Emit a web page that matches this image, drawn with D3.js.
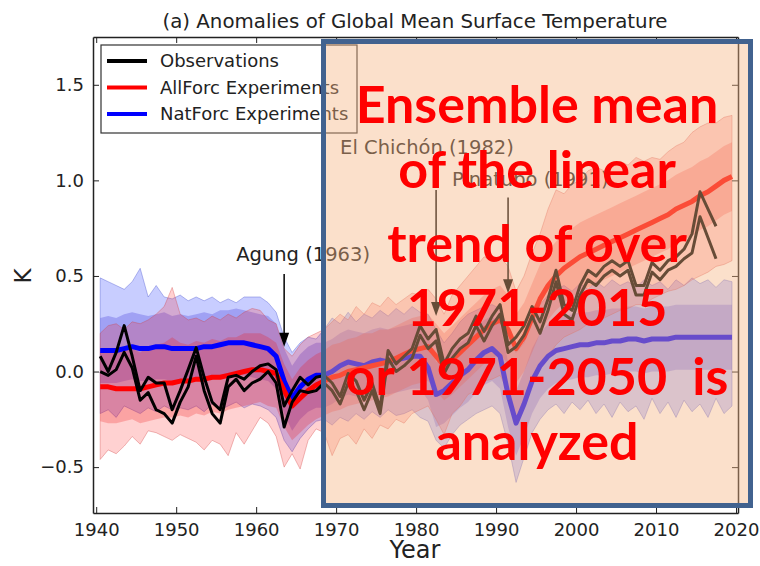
<!DOCTYPE html>
<html>
<head>
  <meta charset="utf-8"/>
  <script src="https://d3js.org/d3.v7.min.js"></script>
  <style>
    html, body { margin: 0; padding: 0; background: #fff; }
    svg { display: block; }
    .mpl { font-family: "DejaVu Sans", sans-serif; fill: #222; }
    .note { font-family: "Lato", "Open Sans", sans-serif; font-weight: 700; fill: #ff0000; }
  </style>
</head>
<body>
<div id="chart"></div>
<script>
// ---- data (annual means, 1940-2019; observations 1940-2017) ----
const firstYear = 1940;
const xTicks = [1940, 1950, 1960, 1970, 1980, 1990, 2000, 2010, 2020];
const yTicks = [-0.5, 0.0, 0.5, 1.0, 1.5];

// Observations (two data sets)
const obsA = [0.08, 0.0, 0.1, 0.24, 0.08, -0.1, -0.03, -0.06, -0.06, -0.2,
  -0.1, 0.01, 0.125, -0.03, -0.16, -0.2, -0.03, -0.02, -0.04, 0.0,
  0.03, 0.04, 0.01, -0.18, -0.1, -0.03, -0.07, -0.03, -0.02, -0.06,
  -0.13, -0.01, -0.05, -0.15, -0.06, -0.19, 0.11, 0.04, 0.08, 0.12,
  0.24, 0.17, 0.22, 0.04, 0.12, 0.17, 0.2, 0.29, 0.21, 0.29,
  0.35, 0.14, 0.18, 0.24, 0.34, 0.26, 0.38, 0.53, 0.35, 0.32,
  0.45, 0.53, 0.5, 0.55, 0.58, 0.55, 0.58, 0.45, 0.45, 0.57,
  0.53, 0.58, 0.6, 0.64, 0.72, 0.94, 0.85, 0.76];
const obsB = [0.0, -0.02, 0.01, 0.1, 0.02, -0.15, -0.11, -0.2, -0.22, -0.27,
  -0.16, -0.08, 0.08, -0.1, -0.22, -0.27, -0.08, -0.04, -0.1, -0.06,
  -0.04, 0.0, -0.06, -0.29, -0.16, -0.1, -0.11, -0.1, -0.06, -0.1,
  -0.17, -0.06, -0.1, -0.2, -0.1, -0.22, 0.07, 0.0, 0.03, 0.07,
  0.19, 0.12, 0.16, -0.01, 0.07, 0.12, 0.15, 0.24, 0.16, 0.24,
  0.3, 0.1, 0.13, 0.19, 0.29, 0.2, 0.32, 0.47, 0.3, 0.27,
  0.4, 0.48, 0.45, 0.5, 0.53, 0.5, 0.53, 0.4, 0.4, 0.52,
  0.48, 0.53, 0.55, 0.59, 0.62, 0.81, 0.7, 0.59];

// AllForc ensemble
const allMean = [-0.08, -0.08, -0.09, -0.09, -0.09, -0.09, -0.08, -0.07, -0.06, -0.06,
  -0.05, -0.05, -0.04, -0.04, -0.03, -0.03, -0.02, -0.01, 0.0, 0.01,
  0.01, 0.0, -0.01, -0.1, -0.18, -0.14, -0.1, -0.07, -0.05, -0.03,
  -0.02, 0.0, 0.01, 0.02, 0.03, 0.04, 0.05, 0.07, 0.09, 0.11,
  0.12, 0.13, 0.08, 0.03, 0.06, 0.1, 0.14, 0.18, 0.22, 0.25,
  0.27, 0.22, 0.12, 0.18, 0.28, 0.38, 0.45, 0.5, 0.54, 0.57,
  0.6, 0.62, 0.64, 0.66, 0.68, 0.7, 0.72, 0.74, 0.76, 0.78,
  0.8, 0.82, 0.85, 0.87, 0.89, 0.92, 0.94, 0.97, 1.0, 1.02];
const allMax = [0.2, 0.24, 0.25, 0.22, 0.26, 0.25, 0.27, 0.3, 0.34, 0.44,
  0.3, 0.27, 0.28, 0.26, 0.29, 0.27, 0.3, 0.28, 0.31, 0.33,
  0.32, 0.27, 0.25, 0.12, 0.08, 0.14, 0.18, 0.2, 0.22, 0.26,
  0.3, 0.27, 0.34, 0.3, 0.36, 0.34, 0.39, 0.35, 0.38, 0.41,
  0.4, 0.43, 0.38, 0.3, 0.4, 0.45, 0.5, 0.55, 0.6, 0.58,
  0.6, 0.55, 0.42, 0.5, 0.62, 0.72, 0.85, 0.95, 0.93, 0.98,
  1.0, 1.05, 1.07, 1.05, 1.08, 1.1, 1.08, 1.12, 1.1, 1.12,
  1.11, 1.15, 1.18, 1.2, 1.25, 1.28, 1.3, 1.3, 1.33, 1.34];
const allMin = [-0.46, -0.41, -0.43, -0.39, -0.34, -0.38, -0.31, -0.32, -0.34, -0.36,
  -0.33, -0.35, -0.37, -0.41, -0.36, -0.38, -0.44, -0.32, -0.38, -0.31,
  -0.24, -0.27, -0.34, -0.5, -0.43, -0.51, -0.36, -0.3, -0.32, -0.44,
  -0.35, -0.33, -0.38, -0.3, -0.35, -0.28, -0.3, -0.25, -0.27, -0.22,
  -0.2, -0.18, -0.25, -0.33, -0.22, -0.18, -0.12, -0.1, -0.05, -0.04,
  -0.02, -0.1, -0.25, -0.15, -0.05, 0.02, 0.08, 0.14, 0.18, 0.2,
  0.22, 0.25, 0.27, 0.28, 0.3, 0.32, 0.33, 0.35, 0.35, 0.38,
  0.4, 0.42, 0.43, 0.45, 0.48, 0.5, 0.52, 0.55, 0.56, 0.58];
const allHi = [0.1, 0.12, 0.1, 0.11, 0.12, 0.1, 0.13, 0.14, 0.15, 0.18,
  0.15, 0.14, 0.16, 0.15, 0.17, 0.16, 0.18, 0.18, 0.2, 0.2,
  0.2, 0.18, 0.15, 0.04, -0.04, 0.02, 0.06, 0.09, 0.11, 0.14,
  0.15, 0.17, 0.18, 0.2, 0.2, 0.22, 0.22, 0.24, 0.26, 0.28,
  0.29, 0.3, 0.25, 0.2, 0.24, 0.28, 0.32, 0.36, 0.4, 0.43,
  0.45, 0.4, 0.3, 0.36, 0.46, 0.56, 0.63, 0.68, 0.72, 0.75,
  0.78, 0.8, 0.82, 0.84, 0.86, 0.88, 0.9, 0.92, 0.94, 0.96,
  0.98, 1.0, 1.03, 1.05, 1.07, 1.1, 1.12, 1.15, 1.18, 1.2];
const allLo = [-0.26, -0.27, -0.27, -0.26, -0.25, -0.27, -0.26, -0.25, -0.24, -0.24,
  -0.23, -0.24, -0.22, -0.23, -0.21, -0.22, -0.2, -0.19, -0.18, -0.17,
  -0.16, -0.18, -0.19, -0.29, -0.36, -0.32, -0.28, -0.25, -0.23, -0.21,
  -0.2, -0.18, -0.17, -0.16, -0.15, -0.14, -0.13, -0.11, -0.09, -0.07,
  -0.06, -0.05, -0.1, -0.15, -0.12, -0.08, -0.04, 0.0, 0.04, 0.07,
  0.09, 0.04, -0.06, 0.0, 0.1, 0.2, 0.27, 0.32, 0.36, 0.39,
  0.42, 0.44, 0.46, 0.48, 0.5, 0.52, 0.54, 0.56, 0.58, 0.6,
  0.62, 0.64, 0.67, 0.69, 0.71, 0.74, 0.76, 0.79, 0.82, 0.84];

// NatForc ensemble
const natMean = [0.11, 0.11, 0.11, 0.12, 0.13, 0.12, 0.12, 0.13, 0.13, 0.12,
  0.12, 0.12, 0.12, 0.13, 0.13, 0.14, 0.15, 0.15, 0.15, 0.14,
  0.13, 0.12, 0.08, -0.05, -0.14, -0.08, -0.04, -0.02, -0.02, 0.0,
  0.03, 0.05, 0.04, 0.03, 0.05, 0.06, 0.05, 0.06, 0.07, 0.08,
  0.08, 0.02, -0.12, -0.1, -0.06, -0.02, 0.01, 0.06, 0.1, 0.12,
  0.08, -0.12, -0.27, -0.17, -0.05, 0.03, 0.08, 0.11, 0.12, 0.13,
  0.14, 0.14, 0.15, 0.15, 0.16, 0.16, 0.17, 0.17, 0.16, 0.17,
  0.17, 0.17, 0.18, 0.18, 0.18, 0.18, 0.18, 0.18, 0.18, 0.18];
const natMax = [0.49, 0.47, 0.45, 0.43, 0.47, 0.54, 0.39, 0.45, 0.39, 0.38,
  0.4, 0.37, 0.39, 0.37, 0.39, 0.36, 0.38, 0.36, 0.39, 0.39,
  0.39, 0.36, 0.31, 0.18, 0.1, 0.15, 0.18, 0.17, 0.22, 0.28,
  0.25, 0.31, 0.26, 0.3, 0.28, 0.32, 0.29, 0.33, 0.3, 0.34,
  0.31, 0.3, 0.22, 0.15, 0.2, 0.26, 0.3, 0.32, 0.34, 0.35,
  0.33, 0.22, 0.1, 0.15, 0.28, 0.35, 0.4, 0.43, 0.45, 0.42,
  0.46, 0.43, 0.47, 0.44, 0.48, 0.45, 0.47, 0.44, 0.48, 0.45,
  0.47, 0.43, 0.48, 0.45, 0.49, 0.46, 0.48, 0.44, 0.48, 0.47];
const natMin = [-0.22, -0.2, -0.24, -0.18, -0.2, -0.22, -0.19, -0.21, -0.18, -0.2,
  -0.19, -0.2, -0.18, -0.21, -0.17, -0.2, -0.18, -0.16, -0.19, -0.17,
  -0.18, -0.2, -0.24, -0.36, -0.42, -0.35, -0.3, -0.26, -0.25, -0.28,
  -0.24, -0.26, -0.22, -0.25, -0.21, -0.24, -0.2, -0.23, -0.22, -0.2,
  -0.24, -0.26, -0.36, -0.4, -0.33, -0.28, -0.25, -0.22, -0.2, -0.18,
  -0.22, -0.38, -0.58, -0.45, -0.32, -0.25, -0.2, -0.17, -0.22, -0.16,
  -0.2, -0.15, -0.22, -0.17, -0.24, -0.16, -0.21, -0.18, -0.25, -0.14,
  -0.22, -0.16, -0.24, -0.15, -0.21, -0.17, -0.24, -0.14, -0.22, -0.18];
const natHi = [0.28, 0.29, 0.28, 0.3, 0.31, 0.3, 0.29, 0.3, 0.31, 0.29,
  0.3, 0.29, 0.3, 0.31, 0.3, 0.32, 0.32, 0.33, 0.32, 0.31,
  0.3, 0.29, 0.25, 0.12, 0.03, 0.09, 0.13, 0.15, 0.15, 0.17,
  0.2, 0.22, 0.21, 0.2, 0.22, 0.23, 0.22, 0.23, 0.24, 0.25,
  0.25, 0.19, 0.05, 0.07, 0.11, 0.15, 0.18, 0.23, 0.27, 0.29,
  0.25, 0.05, -0.1, 0.0, 0.12, 0.2, 0.25, 0.28, 0.29, 0.3,
  0.31, 0.31, 0.32, 0.32, 0.33, 0.33, 0.34, 0.34, 0.33, 0.34,
  0.34, 0.34, 0.35, 0.35, 0.35, 0.35, 0.35, 0.35, 0.35, 0.35];
const natLo = [-0.06, -0.06, -0.06, -0.05, -0.04, -0.05, -0.05, -0.04, -0.04, -0.05,
  -0.05, -0.05, -0.05, -0.04, -0.04, -0.03, -0.02, -0.02, -0.02, -0.03,
  -0.04, -0.05, -0.09, -0.22, -0.31, -0.25, -0.21, -0.19, -0.19, -0.17,
  -0.14, -0.12, -0.13, -0.14, -0.12, -0.11, -0.12, -0.11, -0.1, -0.09,
  -0.09, -0.15, -0.29, -0.27, -0.23, -0.19, -0.16, -0.11, -0.07, -0.05,
  -0.09, -0.29, -0.44, -0.34, -0.22, -0.14, -0.09, -0.06, -0.05, -0.04,
  -0.03, -0.03, -0.02, -0.02, -0.01, -0.01, 0.0, 0.0, -0.01, 0.0,
  0.0, 0.0, 0.01, 0.01, 0.01, 0.01, 0.01, 0.01, 0.01, 0.01];

// volcanic eruptions: arrow at year, tip/tail values, label anchor (tx, ty)
const volcanoes = [
  { label: "Agung (1963)", year: 1963, tip: 0.13, tail: 0.51, tx: 1957.5, ty: 0.58 },
  { label: "El Chichón (1982)", year: 1982, tip: 0.29, tail: 0.95, tx: 1970.5, ty: 1.14 },
  { label: "Pinatubo (1991)", year: 1991, tip: 0.41, tail: 0.91, tx: 1984.5, ty: 0.97 }
];

const legendItems = [
  { label: "Observations", color: "#000000" },
  { label: "AllForc Experiments", color: "#ff0000" },
  { label: "NatForc Experiments", color: "#0000ff" }
];

const noteLines = ["Ensemble mean", "of the linear", "trend of over", "1971-2015", "or 1971-2050  is", "analyzed"];

// ---- drawing ----
const W = 760, H = 566;
const svg = d3.select("#chart").append("svg").attr("width", W).attr("height", H);
svg.append("rect").attr("width", W).attr("height", H).attr("fill", "#fff");

const x = d3.scaleLinear().domain([1939.6, 2020.25]).range([93, 738]);
const y = d3.scaleLinear().domain([-0.74, 1.75]).range([513, 37]);

// annual means plotted at mid-year
const xy = (arr) => arr.map((v, i) => ({ t: firstYear + i + 0.5, v }));
const band = (lo, hi) => lo.map((v, i) => ({ t: firstYear + i + 0.5, lo: v, hi: hi[i] }));

const area = d3.area().x(d => x(d.t)).y0(d => y(d.lo)).y1(d => y(d.hi));
const line = d3.line().x(d => x(d.t)).y(d => y(d.v));

const plot = svg.append("g");

// ensemble spread: blue first, red over it
plot.append("path").datum(band(natMin, natMax)).attr("d", area)
  .attr("fill", "#2b3cff").attr("fill-opacity", 0.26)
  .attr("stroke", "#3a44c8").attr("stroke-opacity", 0.35).attr("stroke-width", 1);
plot.append("path").datum(band(natLo, natHi)).attr("d", area)
  .attr("fill", "#3a2fd8").attr("fill-opacity", 0.28);
plot.append("path").datum(band(allMin, allMax)).attr("d", area)
  .attr("fill", "#ff1a1a").attr("fill-opacity", 0.2)
  .attr("stroke", "#d04040").attr("stroke-opacity", 0.35).attr("stroke-width", 1);
plot.append("path").datum(band(allLo, allHi)).attr("d", area)
  .attr("fill", "#f01010").attr("fill-opacity", 0.24);

// ensemble means
plot.append("path").datum(xy(natMean)).attr("d", line)
  .attr("fill", "none").attr("stroke", "#0000ff").attr("stroke-width", 5)
  .attr("stroke-linejoin", "round");
plot.append("path").datum(xy(allMean)).attr("d", line)
  .attr("fill", "none").attr("stroke", "#ff0000").attr("stroke-width", 5)
  .attr("stroke-linejoin", "round");

// observations
[obsA, obsB].forEach(o => {
  plot.append("path").datum(xy(o)).attr("d", line)
    .attr("fill", "none").attr("stroke", "#000").attr("stroke-width", 3)
    .attr("stroke-linejoin", "round");
});

// volcano annotations
volcanoes.forEach(d => {
  const ax = x(d.year + 0.5);
  svg.append("line")
    .attr("x1", ax).attr("x2", ax)
    .attr("y1", y(d.tail)).attr("y2", y(d.tip) - 12)
    .attr("stroke", "#000").attr("stroke-width", 1.5);
  svg.append("path")
    .attr("d", `M${ax - 5},${y(d.tip) - 14} L${ax + 5},${y(d.tip) - 14} L${ax},${y(d.tip)} Z`)
    .attr("fill", "#000");
  svg.append("text").attr("class", "mpl")
    .attr("x", x(d.tx)).attr("y", y(d.ty))
    .attr("font-size", 19.5)
    .text(d.label);
});

// axes: ticks inward on all four sides
const gx = svg.append("g").attr("transform", "translate(0,513)")
  .call(d3.axisBottom(x).tickValues(xTicks).tickFormat(d3.format("d"))
    .tickSizeInner(-6).tickSizeOuter(0).tickPadding(10));
const gy = svg.append("g").attr("transform", "translate(93,0)")
  .call(d3.axisLeft(y).tickValues(yTicks).tickFormat(d3.format(".1f"))
    .tickSizeInner(-6).tickSizeOuter(0).tickPadding(9));
const gt = svg.append("g").attr("transform", "translate(0,37)")
  .call(d3.axisTop(x).tickValues(xTicks).tickFormat("").tickSizeInner(-6).tickSizeOuter(0));
const gr = svg.append("g").attr("transform", "translate(738,0)")
  .call(d3.axisRight(y).tickValues(yTicks).tickFormat("").tickSizeInner(-6).tickSizeOuter(0));
[gx, gy, gt, gr].forEach(g => {
  g.select(".domain").attr("stroke", "#222").attr("stroke-width", 1.5);
  g.selectAll(".tick line").attr("stroke", "#222").attr("stroke-width", 1);
  g.selectAll(".tick text").attr("font-family", "DejaVu Sans, sans-serif")
    .attr("font-size", 18).attr("fill", "#222");
});

// labels
svg.append("text").attr("class", "mpl")
  .attr("x", 415).attr("y", 28).attr("text-anchor", "middle")
  .attr("font-size", 19.8)
  .text("(a) Anomalies of Global Mean Surface Temperature");
svg.append("text").attr("class", "mpl")
  .attr("transform", "translate(31,276) rotate(-90)")
  .attr("text-anchor", "middle").attr("font-size", 23)
  .text("K");
svg.append("text").attr("class", "mpl")
  .attr("x", 415).attr("y", 558).attr("text-anchor", "middle")
  .attr("font-size", 24)
  .text("Year");

// legend
const lg = svg.append("g").attr("transform", "translate(101,45)");
lg.append("rect").attr("width", 256).attr("height", 88)
  .attr("fill", "#fff").attr("stroke", "#333").attr("stroke-width", 1.2);
const li = lg.selectAll(".li").data(legendItems).enter().append("g")
  .attr("transform", (d, i) => `translate(0, ${16 + i * 26.5})`);
li.append("line").attr("x1", 6).attr("x2", 46)
  .attr("stroke", d => d.color).attr("stroke-width", 4);
li.append("text").attr("class", "mpl").attr("x", 59).attr("dy", "0.35em")
  .attr("font-size", 18).text(d => d.label);

// highlighted box over 1971-2020
svg.append("rect")
  .attr("x", 323.5).attr("y", 41.5).attr("width", 427).attr("height", 464)
  .attr("fill", "rgb(245,180,130)").attr("fill-opacity", 0.42)
  .attr("stroke", "#41628f").attr("stroke-width", 5);

const noteBase = [123, 188, 262, 326, 395, 460];
svg.selectAll(".note").data(noteLines).enter().append("text")
  .attr("class", "note")
  .attr("x", 537).attr("y", (d, i) => noteBase[i])
  .attr("text-anchor", "middle")
  .attr("font-size", 52)
  .style("white-space", "pre")
  .text(d => d);
</script>
</body>
</html>
